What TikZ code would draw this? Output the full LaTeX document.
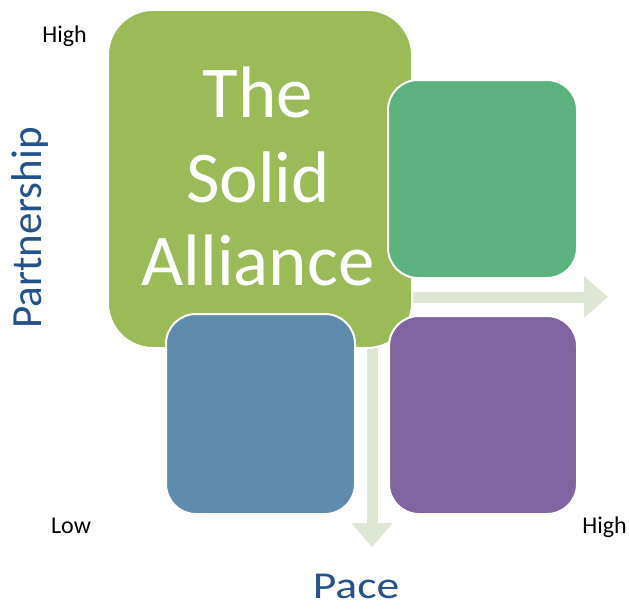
\documentclass[tikz,border=0pt]{standalone}
\usepackage{fontspec}
\setmainfont{Carlito}
\usetikzlibrary{arrows.meta}
\definecolor{cgreen}{HTML}{9BBB59}
\definecolor{cteal}{HTML}{5BB47E}
\definecolor{cblue}{HTML}{5F8BAD}
\definecolor{cpurple}{HTML}{8064A2}
\definecolor{carrow}{HTML}{DEE7D4}
\definecolor{caxis}{HTML}{24528A}
\tikzset{
  quad/.style={draw=white, line width=2pt, rounded corners=30pt, minimum width=#1},
  axisarrow/.style={draw=carrow, line width=11pt, -{Triangle[width=40pt,length=24pt]}},
  axislabel/.style={text=caxis, font=\fontsize{43}{50}\selectfont, inner sep=0pt},
  endlabel/.style={text=black, font=\fontsize{24}{28}\selectfont, inner sep=0pt, anchor=base},
  titletext/.style={text=white, font=\fontsize{73}{84}\selectfont, anchor=base, inner sep=0pt},
}
\begin{document}
\begin{tikzpicture}[x=1pt,y=-1pt]
\useasboundingbox (0,0) rectangle (629,610);
% arrows behind
\coordinate (hs) at (400,297);
\coordinate (he) at (608,297);
\coordinate (vs) at (372,340);
\coordinate (ve) at (372,547);
\draw[axisarrow] (hs) -- (he);
\draw[axisarrow] (vs) -- (ve);
% boxes
\node[quad=304pt, rounded corners=45pt, fill=cgreen, minimum height=338pt] (green) at (260,179) {};
\node[quad=189pt, fill=cteal, minimum height=198pt] (teal) at (482.5,179) {};
\node[quad=189pt, fill=cblue, minimum height=200pt] (blue) at (260.5,414) {};
\node[quad=188pt, fill=cpurple, minimum height=198pt] (purple) at (483,415) {};
% title
\node[titletext] (t1) at (258,117) {The};
\node[titletext] (t2) at (258,202) {Solid};
\node[titletext] (t3) at (258,285) {Alliance};
% axis labels
\node[axislabel, rotate=90] (partner) at (30,228) {Partnership};
\node[axislabel, font=\fontsize{38}{44}\selectfont, xscale=1.2, anchor=base] (pace) at (356,598) {Pace};
\node[endlabel] (hightop) at (64.5,43) {High};
\node[endlabel] (low) at (71,533) {Low};
\node[endlabel] (highbot) at (604.5,533) {High};
\end{tikzpicture}
\end{document}
